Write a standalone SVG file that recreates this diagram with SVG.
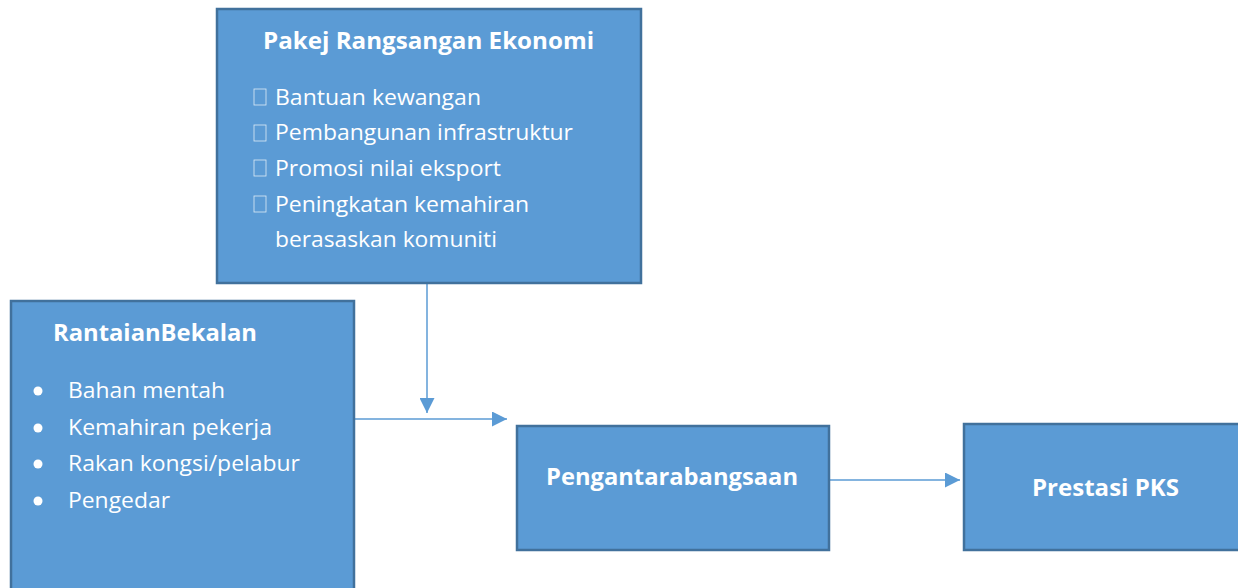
<svg xmlns="http://www.w3.org/2000/svg" width="1238" height="588" viewBox="0 0 1238 588">
<style>
.box{fill:#5B9BD5;stroke:#41719C;stroke-width:2.5}
.t{font-family:"Open Sans","Liberation Sans",sans-serif;fill:#fff}
.b{font-weight:bold;font-size:24px}
.i{font-size:22px}
.tofu{fill:none;stroke:#fff;stroke-width:0.8;opacity:0.8}
.conn{stroke:#5B9BD5;stroke-width:1.5;fill:none}
</style>
<defs>
<marker id="ah2" viewBox="0 0 10 10" refX="10" refY="5" markerWidth="15" markerHeight="15" markerUnits="userSpaceOnUse" orient="auto">
<path d="M0,0 L10,5 L0,10 z" fill="#5B9BD5"/>
</marker>
</defs>
<rect width="1238" height="588" fill="#fff"/>
<g id="connectors">
<line class="conn" x1="427" y1="284" x2="427" y2="413" marker-end="url(#ah2)"/>
<line class="conn" x1="355" y1="419" x2="507" y2="419" marker-end="url(#ah2)"/>
<line class="conn" x1="830" y1="480" x2="960" y2="480" marker-end="url(#ah2)"/>
</g>
<g id="pakej">
<rect class="box" x="217" y="9" width="424" height="274"/>
<text class="t b" x="263" y="49" textLength="331" lengthAdjust="spacingAndGlyphs">Pakej Rangsangan Ekonomi</text>
<rect class="tofu" x="254" y="89" width="12" height="16"/>
<rect class="tofu" x="254" y="125" width="12" height="16"/>
<rect class="tofu" x="254" y="160" width="12" height="16"/>
<rect class="tofu" x="254" y="196" width="12" height="16"/>
<text class="t i" x="275" y="105" textLength="206" lengthAdjust="spacingAndGlyphs">Bantuan kewangan</text>
<text class="t i" x="275" y="140" textLength="298" lengthAdjust="spacingAndGlyphs">Pembangunan infrastruktur</text>
<text class="t i" x="275" y="176" textLength="226" lengthAdjust="spacingAndGlyphs">Promosi nilai eksport</text>
<text class="t i" x="275" y="212" textLength="254" lengthAdjust="spacingAndGlyphs">Peningkatan kemahiran</text>
<text class="t i" x="275" y="247" textLength="222" lengthAdjust="spacingAndGlyphs">berasaskan komuniti</text>
</g>
<g id="rantaian">
<rect class="box" x="11" y="301" width="343" height="300"/>
<text class="t b" x="53" y="341" textLength="204" lengthAdjust="spacingAndGlyphs">RantaianBekalan</text>
<circle cx="38" cy="391" r="4.5" fill="#fff"/>
<circle cx="38" cy="428" r="4.5" fill="#fff"/>
<circle cx="38" cy="464" r="4.5" fill="#fff"/>
<circle cx="38" cy="501" r="4.5" fill="#fff"/>
<text class="t i" x="68" y="398" textLength="157" lengthAdjust="spacingAndGlyphs">Bahan mentah</text>
<text class="t i" x="68" y="435" textLength="204" lengthAdjust="spacingAndGlyphs">Kemahiran pekerja</text>
<text class="t i" x="68" y="471" textLength="232" lengthAdjust="spacingAndGlyphs">Rakan kongsi/pelabur</text>
<text class="t i" x="68" y="508" textLength="102" lengthAdjust="spacingAndGlyphs">Pengedar</text>
</g>
<g id="pengantarabangsaan">
<rect class="box" x="517" y="426" width="312" height="124"/>
<text class="t b" x="546" y="485" textLength="252" lengthAdjust="spacingAndGlyphs">Pengantarabangsaan</text>
</g>
<g id="prestasi">
<rect class="box" x="964" y="424" width="290" height="126"/>
<text class="t b" x="1032" y="496" textLength="147" lengthAdjust="spacingAndGlyphs">Prestasi PKS</text>
</g>
</svg>
